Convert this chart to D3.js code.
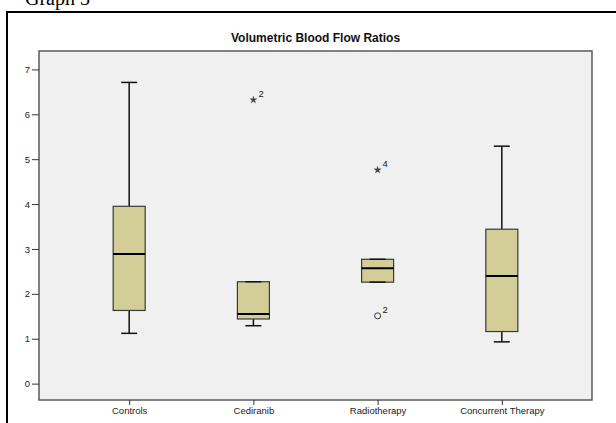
<!DOCTYPE html>
<html>
<head>
<meta charset="utf-8">
<script src="https://cdn.jsdelivr.net/npm/d3@7"></script>
<style>
  html, body { margin: 0; padding: 0; background: #fff; }
  svg { display: block; }
</style>
</head>
<body>
<svg id="chart" width="616" height="423"></svg>
<script>
// Volumetric blood flow ratios per treatment group (box plot summary)
const categories  = ["Controls", "Cediranib", "Radiotherapy", "Concurrent Therapy"];
const whiskerLow  = [1.12, 1.29, 2.26, 0.93];
const quartile1   = [1.63, 1.44, 2.26, 1.16];
const medians     = [2.89, 1.55, 2.57, 2.40];
const quartile3   = [3.95, 2.27, 2.77, 3.44];
const whiskerHigh = [6.71, 2.27, 2.77, 5.29];

// Points outside the whiskers: "extreme" drawn as stars, "outlier" as open circles
const outlierGroup = ["Cediranib", "Radiotherapy", "Radiotherapy"];
const outlierValue = [6.32, 4.76, 1.51];
const outlierCase  = ["2", "4", "2"];
const outlierKind  = ["extreme", "extreme", "outlier"];

const yTicks = [0, 1, 2, 3, 4, 5, 6, 7];

const svg = d3.select("#chart");

// Page framing: heading above a ruled cell
svg.append("text")
  .attr("x", 25).attr("y", 5)
  .attr("font-family", "Liberation Serif, Times New Roman, serif")
  .attr("font-size", 20)
  .attr("fill", "#000")
  .text("Graph 3");
svg.append("line").attr("x1", 7).attr("x2", 616).attr("y1", 12).attr("y2", 12)
  .attr("stroke", "#000").attr("stroke-width", 2);
svg.append("line").attr("x1", 7).attr("x2", 7).attr("y1", 11).attr("y2", 423)
  .attr("stroke", "#000").attr("stroke-width", 2);

const plot = { left: 39, right: 592, top: 51, bottom: 400 };

const x = d3.scalePoint()
  .domain(categories)
  .range([plot.left, plot.right])
  .padding(0.726);

const y = d3.scaleLinear()
  .domain([-0.365, 7.41])
  .range([plot.bottom, plot.top]);

// Title
svg.append("text")
  .attr("x", (plot.left + plot.right) / 2)
  .attr("y", 42)
  .attr("text-anchor", "middle")
  .attr("font-family", "Liberation Sans, Arial, sans-serif")
  .attr("font-weight", "bold")
  .attr("font-size", 12)
  .attr("fill", "#111")
  .text("Volumetric Blood Flow Ratios");

// Plot background
svg.append("rect")
  .attr("x", plot.left).attr("y", plot.top)
  .attr("width", plot.right - plot.left)
  .attr("height", plot.bottom - plot.top)
  .attr("fill", "#f0f0f0")
  .attr("stroke", "#5a5a5a")
  .attr("stroke-width", 1.5);

// Axes
const yAxis = d3.axisLeft(y).tickValues(yTicks).tickSize(7).tickPadding(2).tickFormat(d3.format("d"));
const gy = svg.append("g").attr("transform", `translate(${plot.left},0)`).call(yAxis);
const xAxis = d3.axisBottom(x).tickSize(5).tickPadding(2);
const gx = svg.append("g").attr("transform", `translate(0,${plot.bottom})`).call(xAxis);

[gy, gx].forEach(g => {
  g.select(".domain").remove();
  g.selectAll(".tick line").attr("stroke", "#333").attr("stroke-width", 1);
  g.selectAll(".tick text")
    .attr("font-family", "Liberation Sans, Arial, sans-serif")
    .attr("font-size", 9.5)
    .attr("fill", "#222");
});

// Boxes
const boxW = 32, capW = 16;
const rows = categories.map((c, i) => ({
  cat: c, lo: whiskerLow[i], q1: quartile1[i], med: medians[i], q3: quartile3[i], hi: whiskerHigh[i]
}));

const g = svg.append("g");
rows.forEach(r => {
  const cx = x(r.cat);
  // whiskers
  g.append("line").attr("x1", cx).attr("x2", cx).attr("y1", y(r.hi)).attr("y2", y(r.q3))
    .attr("stroke", "#111").attr("stroke-width", 1.5);
  g.append("line").attr("x1", cx).attr("x2", cx).attr("y1", y(r.q1)).attr("y2", y(r.lo))
    .attr("stroke", "#111").attr("stroke-width", 1.5);
  // box
  g.append("rect")
    .attr("x", cx - boxW / 2).attr("y", y(r.q3))
    .attr("width", boxW).attr("height", y(r.q1) - y(r.q3))
    .attr("fill", "#d3ce97")
    .attr("stroke", "#3a3a3a").attr("stroke-width", 1.2);
  // caps
  g.append("line").attr("x1", cx - capW / 2).attr("x2", cx + capW / 2)
    .attr("y1", y(r.hi)).attr("y2", y(r.hi))
    .attr("stroke", "#111").attr("stroke-width", 1.5);
  g.append("line").attr("x1", cx - capW / 2).attr("x2", cx + capW / 2)
    .attr("y1", y(r.lo)).attr("y2", y(r.lo))
    .attr("stroke", "#111").attr("stroke-width", 1.5);
  // median
  g.append("line").attr("x1", cx - boxW / 2).attr("x2", cx + boxW / 2)
    .attr("y1", y(r.med)).attr("y2", y(r.med))
    .attr("stroke", "#000").attr("stroke-width", 2);
});

// Outliers and extremes with case labels
const star = d3.symbol().type(d3.symbolStar).size(16);
outlierValue.forEach((v, i) => {
  const cx = x(outlierGroup[i]), cy = y(v);
  if (outlierKind[i] === "extreme") {
    g.append("path").attr("d", star).attr("transform", `translate(${cx},${cy})`)
      .attr("fill", "#444").attr("stroke", "#444").attr("stroke-width", 0.3);
  } else {
    g.append("circle").attr("cx", cx).attr("cy", cy).attr("r", 3)
      .attr("fill", "none").attr("stroke", "#333").attr("stroke-width", 1);
  }
  g.append("text")
    .attr("x", cx + 5).attr("y", cy - 3)
    .attr("font-family", "Liberation Sans, Arial, sans-serif")
    .attr("font-size", 9.5)
    .attr("fill", "#222")
    .text(outlierCase[i]);
});
</script>
</body>
</html>
